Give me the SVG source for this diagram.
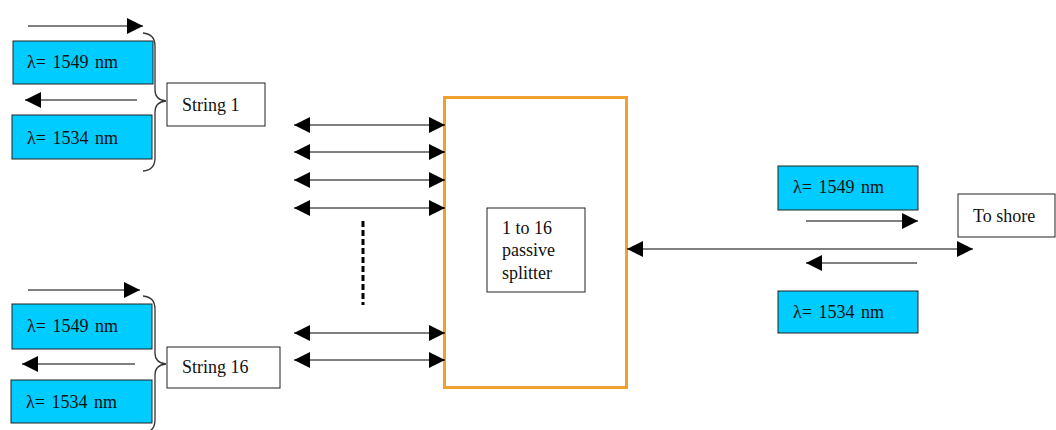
<svg xmlns="http://www.w3.org/2000/svg" width="1056" height="430" viewBox="0 0 1056 430">
<style>
.bg{fill:#ffffff}
.blue{fill:#00CCFF;stroke:#222;stroke-width:1}
.box{fill:#ffffff;stroke:#222;stroke-width:1}
.split{fill:#ffffff;stroke:#F0A02C;stroke-width:3}
.t{font-family:"Liberation Serif","Times New Roman",serif;font-size:18px;fill:#111}
.lam{font-family:"Liberation Serif","Times New Roman",serif;font-size:18px;fill:#111;word-spacing:2px}
.ar{stroke:#000;stroke-width:1;fill:none}
.brace{stroke:#333;stroke-width:1.3;fill:none}
.dash{stroke:#000;stroke-width:3;stroke-dasharray:6,3;fill:none}
</style>
<defs>
<marker id="ah" markerUnits="userSpaceOnUse" markerWidth="17" markerHeight="17" refX="16" refY="8" orient="auto-start-reverse" viewBox="0 0 17 17">
<path d="M0,0 L16,8 L0,16 Z" fill="#000"/>
</marker>
</defs>
<rect class="bg" x="0" y="0" width="1056" height="430"/>

<g id="string1-group">
<g id="s1-1549"><rect class="blue" x="13" y="41" width="140" height="43"/><text class="lam" x="27" y="68">λ= 1549 nm</text></g>
<g id="s1-1534"><rect class="blue" x="12" y="115" width="140" height="44"/><text class="lam" x="27" y="144">λ= 1534 nm</text></g>
<g id="string1"><rect class="box" x="167" y="83" width="98" height="43"/><text class="t" x="182" y="111">String 1</text></g>
</g>

<g id="string16-group">
<g id="s16-1549"><rect class="blue" x="12" y="304" width="140" height="45"/><text class="lam" x="27" y="332">λ= 1549 nm</text></g>
<g id="s16-1534"><rect class="blue" x="11" y="380" width="141" height="43"/><text class="lam" x="26" y="408">λ= 1534 nm</text></g>
<g id="string16"><rect class="box" x="167" y="347" width="113" height="41"/><text class="t" x="182" y="373">String 16</text></g>
</g>

<g id="splitter">
<rect class="split" x="444.5" y="97.5" width="182" height="290"/>
<rect class="box" x="487" y="208" width="98" height="84"/>
<text class="t" x="502" y="234">1 to 16</text>
<text class="t" x="502" y="256">passive</text>
<text class="t" x="502" y="279">splitter</text>
</g>

<g id="right-group">
<g id="r-1549"><rect class="blue" x="778" y="166" width="140" height="44"/><text class="lam" x="793" y="193">λ= 1549 nm</text></g>
<g id="r-1534"><rect class="blue" x="778" y="291" width="140" height="42"/><text class="lam" x="793" y="318">λ= 1534 nm</text></g>
<g id="shore"><rect class="box" x="958" y="194" width="97" height="43"/><text class="t" x="973" y="222">To shore</text></g>
</g>

<g id="connectors">
<line class="ar" x1="28" y1="26" x2="143" y2="26" marker-end="url(#ah)"/>
<line class="ar" x1="137" y1="100" x2="25" y2="100" marker-end="url(#ah)"/>
<line class="ar" x1="28" y1="290" x2="140" y2="290" marker-end="url(#ah)"/>
<line class="ar" x1="135" y1="364" x2="22" y2="364" marker-end="url(#ah)"/>
<path class="brace" d="M143,33 Q155,34 155,46 L155,90 Q155,100 166,101 Q155,102 155,112 L155,158 Q155,170 143,171"/>
<path class="brace" d="M143,296 Q155,297 155,309 L155,353 Q155,363 166,364 Q155,365 155,375 L155,420 Q155,432 143,433"/>
<line class="ar" x1="294" y1="125" x2="445" y2="125" marker-start="url(#ah)" marker-end="url(#ah)"/>
<line class="ar" x1="294" y1="152" x2="445" y2="152" marker-start="url(#ah)" marker-end="url(#ah)"/>
<line class="ar" x1="294" y1="180" x2="445" y2="180" marker-start="url(#ah)" marker-end="url(#ah)"/>
<line class="ar" x1="294" y1="208" x2="445" y2="208" marker-start="url(#ah)" marker-end="url(#ah)"/>
<line class="ar" x1="294" y1="333" x2="445" y2="333" marker-start="url(#ah)" marker-end="url(#ah)"/>
<line class="ar" x1="294" y1="360" x2="445" y2="360" marker-start="url(#ah)" marker-end="url(#ah)"/>
<line class="dash" x1="363" y1="221" x2="363" y2="305"/>
<line class="ar" x1="627" y1="249" x2="973" y2="249" marker-start="url(#ah)" marker-end="url(#ah)"/>
<line class="ar" x1="806" y1="221" x2="918" y2="221" marker-end="url(#ah)"/>
<line class="ar" x1="917" y1="263" x2="806" y2="263" marker-end="url(#ah)"/>
</g>
</svg>
